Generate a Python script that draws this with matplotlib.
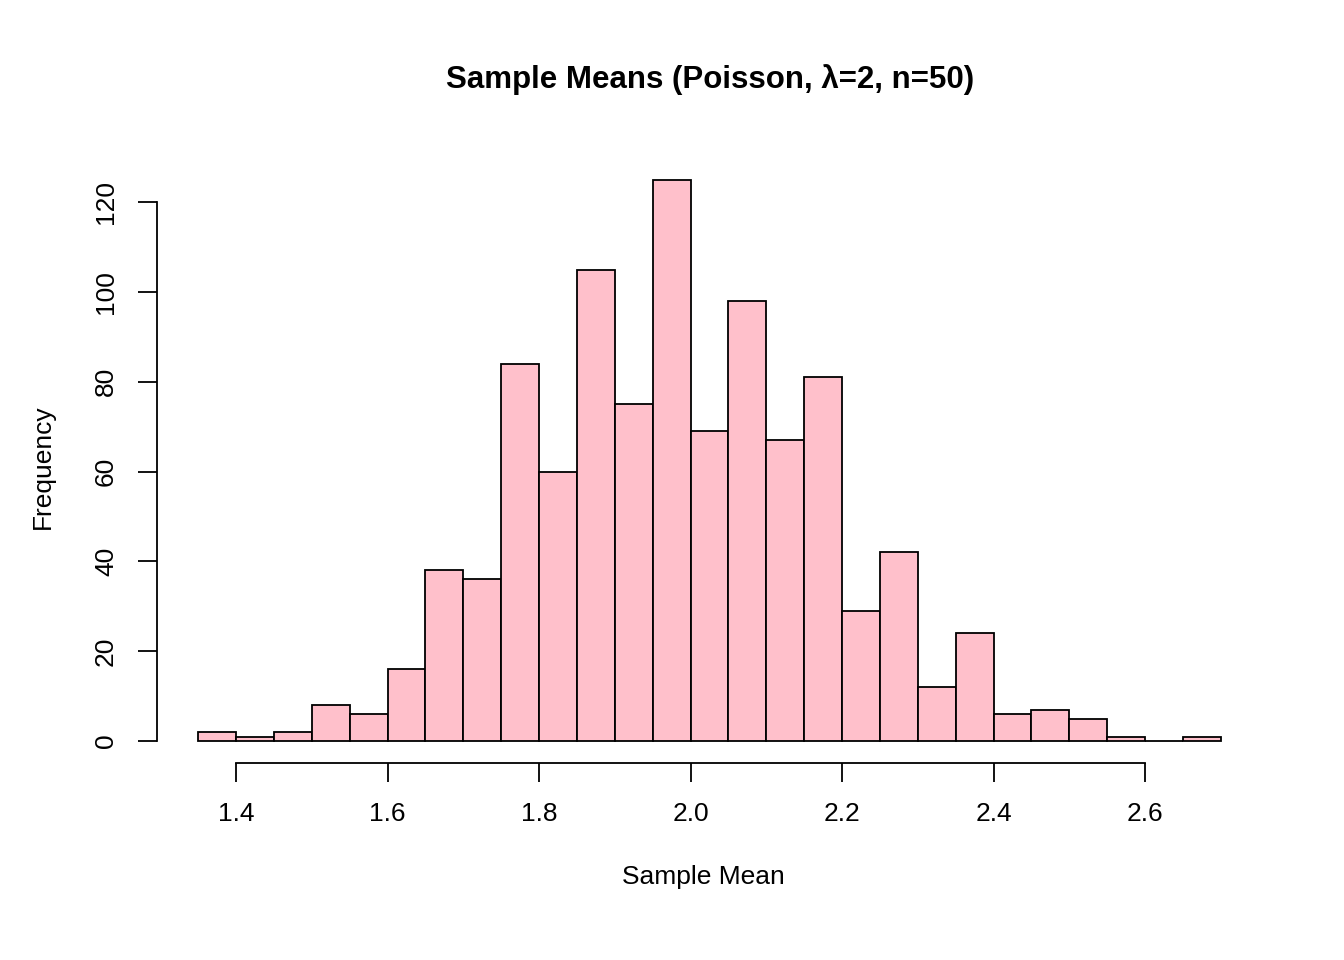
import numpy as np
import matplotlib.pyplot as plt

plt.rcParams['font.family'] = ['Liberation Sans', 'DejaVu Sans']

edges = np.round(np.arange(1.35, 2.7001, 0.05), 2)
counts = [2, 1, 2, 8, 6, 16, 38, 36, 84, 60, 105, 75, 125, 69, 98, 67, 81,
          29, 42, 12, 24, 6, 7, 5, 1, 0, 1]
xticks = [1.4, 1.6, 1.8, 2.0, 2.2, 2.4, 2.6]
yticks = [0, 20, 40, 60, 80, 100, 120]

W, H = 1344, 960
fig = plt.figure(figsize=(W / 100, H / 100), dpi=100)
# axes placed in pixels: left 157, right 1250, top 170, bottom 763
l, r, t, b = 157, 1250, 170, 763
ax = fig.add_axes([l / W, 1 - b / H, (r - l) / W, (b - t) / H])

ppx = 757.5  # pixels per x unit
ppy = 4.49   # pixels per count
x0 = 1.4 + (l - 236) / ppx
x1 = 1.4 + (r - 236) / ppx
y0 = (741 - b) / ppy
y1 = (741 - t) / ppy

ax.bar(edges[:-1], counts, width=0.05, align='edge', color='pink',
       edgecolor='black', linewidth=1.3)
ax.set_xlim(x0, x1)
ax.set_ylim(y0, y1)

for s in ['top', 'right']:
    ax.spines[s].set_visible(False)
ax.spines['bottom'].set_bounds(1.4, 2.6)
ax.spines['left'].set_bounds(0, 120)
ax.spines['bottom'].set_linewidth(1.3)
ax.spines['left'].set_linewidth(1.3)

ax.set_xticks(xticks)
ax.set_xticklabels([f"{v:.1f}" for v in xticks])
ax.set_yticks(yticks)
ax.set_yticklabels([str(v) for v in yticks], rotation=90, va='center')
ax.tick_params(length=14, width=1.3, labelsize=19, pad=14)

ax.set_xlabel("Sample Mean", fontsize=19, labelpad=28)
ax.set_ylabel("Frequency", fontsize=19, labelpad=28)
fig.text(0.528, 1 - 80 / H, "Sample Means (Poisson, λ=2, n=50)",
         ha='center', va='center', fontsize=22.5, fontweight='bold')

fig.savefig("out.png", dpi=100)
